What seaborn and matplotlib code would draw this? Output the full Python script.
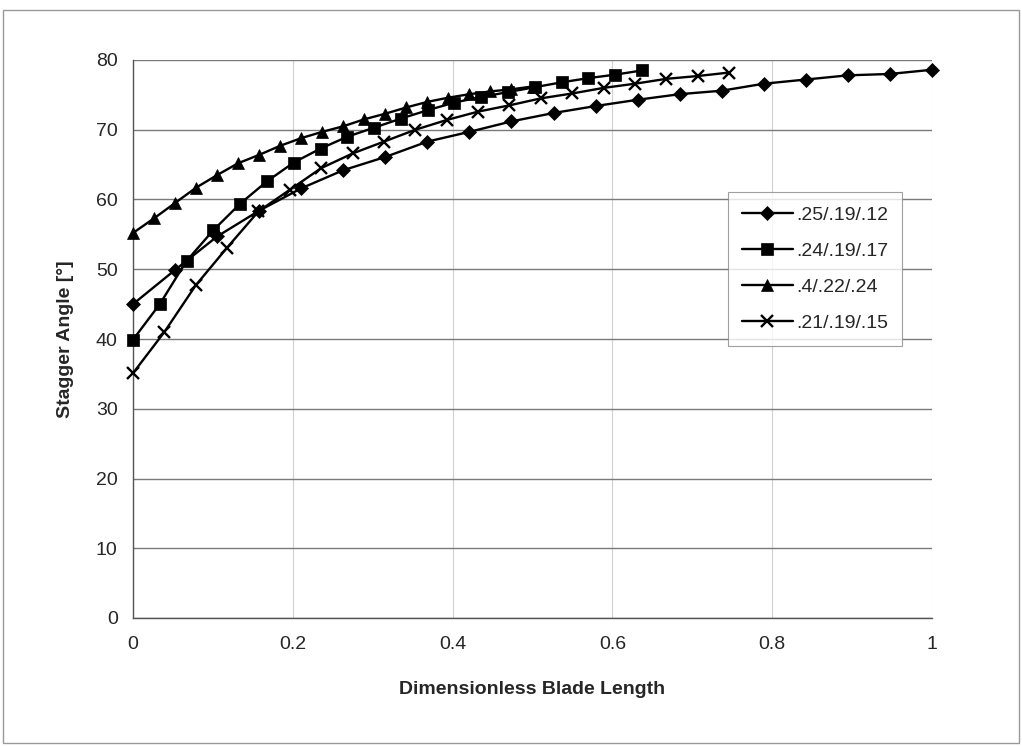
import numpy as np
import pandas as pd
import matplotlib
matplotlib.use("Agg")
import matplotlib.pyplot as plt
import seaborn as sns
from matplotlib.patches import Rectangle

series_names = [".25/.19/.12", ".24/.19/.17", ".4/.22/.24", ".21/.19/.15"]

x_a = [i / 19 for i in range(20)]
y_a = [45.0, 49.9, 54.7, 58.4, 61.6, 64.2, 66.1, 68.3, 69.7, 71.2,
       72.4, 73.4, 74.3, 75.1, 75.6, 76.6, 77.2, 77.8, 78.0, 78.6]

x_b = [i * 0.637 / 19 for i in range(20)]
y_b = [39.9, 45.0, 51.2, 55.6, 59.4, 62.6, 65.3, 67.3, 69.0, 70.3,
       71.6, 72.8, 73.9, 74.7, 75.4, 76.1, 76.8, 77.4, 77.9, 78.5]

x_c = [i * 0.5 / 19 for i in range(20)]
y_c = [55.2, 57.3, 59.5, 61.7, 63.5, 65.2, 66.4, 67.7, 68.8, 69.7,
       70.5, 71.5, 72.3, 73.2, 74.0, 74.6, 75.1, 75.5, 75.8, 76.2]

x_d = [i * 0.746 / 19 for i in range(20)]
y_d = [35.1, 41.0, 47.7, 53.1, 58.3, 61.4, 64.5, 66.6, 68.3, 70.0,
       71.4, 72.6, 73.5, 74.5, 75.2, 76.0, 76.6, 77.3, 77.7, 78.2]

xs = [x_a, x_b, x_c, x_d]
ys = [y_a, y_b, y_c, y_d]

frames = []
for name, xv, yv in zip(series_names, xs, ys):
    frames.append(pd.DataFrame({"x": xv, "y": yv, "series": name}))
df = pd.concat(frames, ignore_index=True)

sns.set_style("white")
plt.rcParams['font.family'] = ['Liberation Sans', 'DejaVu Sans']

fig = plt.figure(figsize=(10.22, 7.46), dpi=100)
ax = fig.add_axes([133 / 1022, 1 - 618 / 746, (932 - 133) / 1022, (618 - 60) / 746])

marker_map = {".25/.19/.12": "D", ".24/.19/.17": "s", ".4/.22/.24": "^", ".21/.19/.15": "x"}
size_map = {".25/.19/.12": 7, ".24/.19/.17": 8, ".4/.22/.24": 8.5, ".21/.19/.15": 9}

for name in series_names:
    sub = df[df["series"] == name]
    sns.lineplot(data=sub, x="x", y="y", ax=ax, color="black", lw=1.7,
                 marker=marker_map[name], markersize=size_map[name],
                 markeredgewidth=1.7 if name == ".21/.19/.15" else 0.5,
                 markeredgecolor="black", markerfacecolor="black",
                 label=name, sort=False, zorder=3, clip_on=False)

ax.set_xlim(0, 1)
ax.set_ylim(0, 80)
ax.set_xticks([0, 0.2, 0.4, 0.6, 0.8, 1.0])
ax.set_xticklabels(["0", "0.2", "0.4", "0.6", "0.8", "1"])
ax.set_yticks(range(0, 81, 10))
ax.grid(axis="y", color="#7a7a7a", lw=1.0)
ax.grid(axis="x", color="#d0d0d0", lw=0.8)
ax.set_axisbelow(True)

for s in ["top", "right"]:
    ax.spines[s].set_visible(False)
for s in ["left", "bottom"]:
    ax.spines[s].set_color("#555555")
    ax.spines[s].set_linewidth(1.0)

ax.tick_params(axis="both", which="both", direction="out", length=5, width=0.8,
               color="#555555", labelsize=14, pad=8)
ax.tick_params(axis="y", pad=6)

ax.set_xlabel("Dimensionless Blade Length", fontsize=14, fontweight="bold", labelpad=20)
ax.set_ylabel("Stagger Angle [°]", fontsize=14, fontweight="bold", labelpad=16)

leg = ax.legend(loc="upper left", bbox_to_anchor=(0.733, 0.78), frameon=True,
                fancybox=False, edgecolor="#888888", fontsize=14,
                handlelength=2.6, borderpad=0.7, labelspacing=0.95,
                handletextpad=0.2)
leg.get_frame().set_linewidth(0.8)

fig.patches.append(Rectangle((3 / 1022, 3 / 746), 1016 / 1022, 733 / 746,
                             transform=fig.transFigure, fill=False,
                             edgecolor="#999999", lw=1.0))

fig.savefig("out.png", dpi=100, facecolor="white")
